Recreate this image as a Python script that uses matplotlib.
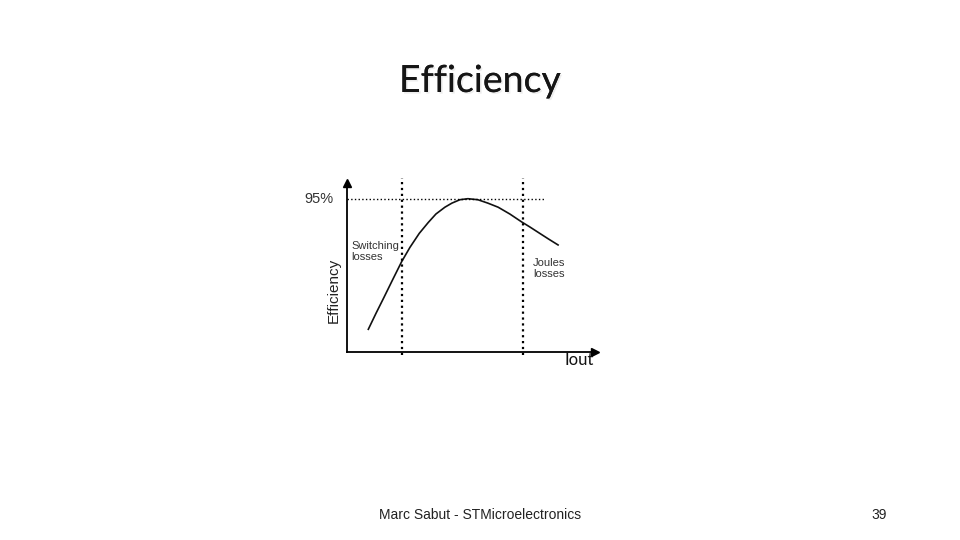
import matplotlib.pyplot as plt
import matplotlib.patheffects as pe

# efficiency curve (Iout in arbitrary units, efficiency in %)
iout = [10.65, 14.5, 18.5, 22.85, 27.35, 31.5, 36.15, 40.65, 44.5, 49, 52.5, 56.5,
        60.5, 65.5, 70.5, 75.65, 81.5, 87.35, 91.5, 96.5, 101, 105.65]
efficiency = [56.7, 61.4, 66.1, 71.3, 76.6, 80.8, 84.9, 88.1, 90.6, 92.6, 93.8, 94.8,
              95.1, 94.8, 93.8, 92.6, 90.6, 88.3, 86.8, 84.9, 83.2, 81.5]

peak_eff = 95
region_bounds = [27.5, 88]

fig = plt.figure(figsize=(9.6, 5.4), dpi=100)
fig.patch.set_facecolor('white')

title = fig.text(0.5, 0.85, 'Efficiency', ha='center', va='center',
                 fontsize=27, family='Lato', color='#151515')
title.set_path_effects([pe.withSimplePatchShadow(offset=(1.2, -1.2), shadow_rgbFace='#dddddd', alpha=0.5),
                        pe.Normal()])

ax = fig.add_axes([0.3615, 0.348, 0.258, 0.313])
ax.plot(iout, efficiency, color='#111111', linewidth=1.2)

ax.set_xlim(0, 124)
ax.set_ylim(50, 99.7)

# 95% reference line and the two region boundaries
ax.plot([0, 99], [peak_eff, peak_eff], color='black', linestyle=':', linewidth=1.0)
for xb in region_bounds:
    ax.plot([xb, xb], [49.1, 101.2], color='black', linestyle=':', linewidth=1.6, clip_on=False)

for side in ['top', 'right']:
    ax.spines[side].set_visible(False)
for side in ['left', 'bottom']:
    ax.spines[side].set_linewidth(1.3)
ax.set_xticks([])
ax.set_yticks([])

# arrow heads on the axes
ax.plot(1, 0, '>k', markersize=6, transform=ax.transAxes, clip_on=False)
ax.plot(0, 1, '^k', markersize=6, transform=ax.transAxes, clip_on=False)

ax.text(-0.055, peak_eff, '95%', ha='right', va='center', fontsize=10.5,
        family='Liberation Sans', color='#333333', transform=ax.get_yaxis_transform())
ax.text(2, 79.5, 'Switching\nlosses', ha='left', va='center', fontsize=8,
        family='Liberation Sans', color='#333333', linespacing=1.15)
ax.text(93, 74.5, 'Joules\nlosses', ha='left', va='center', fontsize=8,
        family='Liberation Sans', color='#333333', linespacing=1.15)
ax.text(-0.055, 68, 'Efficiency', ha='center', va='center', rotation=90, fontsize=11,
        family='Liberation Sans', color='#222222', transform=ax.get_yaxis_transform())
ax.text(0.995, -0.045, 'Iout', ha='right', va='center', fontsize=12,
        family='Lato', color='#111111', transform=ax.transAxes)

fig.text(0.5, 0.046, 'Marc Sabut - STMicroelectronics', ha='center', va='center',
         fontsize=10, family='Liberation Sans', color='#222222')
fig.text(0.916, 0.046, '39', ha='center', va='center',
         fontsize=10, family='Liberation Sans', color='#222222')

plt.savefig('out.png', dpi=100)
plt.close()
